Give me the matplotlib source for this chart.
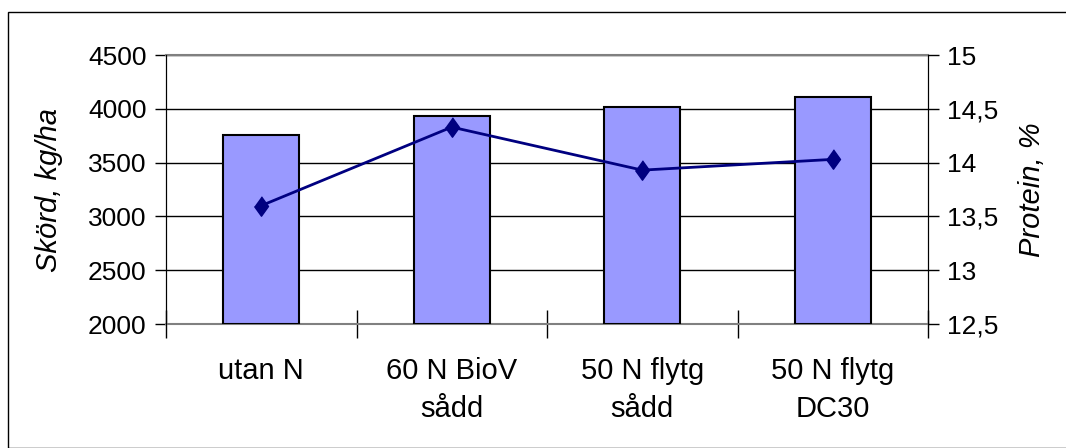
import numpy as np
import matplotlib.pyplot as plt
from matplotlib.patches import Rectangle

plt.rcParams['font.family'] = ['Liberation Sans', 'DejaVu Sans']

categories = ["utan N", "60 N BioV\nsådd", "50 N flytg\nsådd", "50 N flytg\nDC30"]
skord = [3760, 3930, 4020, 4110]
protein = [13.6, 14.33, 13.93, 14.03]

fig = plt.figure(figsize=(10.66, 4.48), dpi=100)
ax = fig.add_axes([166/1066, 1-324/448, (928-166)/1066, (324-55)/448])

x = np.arange(len(categories))
ax.bar(x, [v - 2000 for v in skord], bottom=2000, width=0.4,
       color='#9999ff', edgecolor='black', linewidth=1.5, zorder=3)
ax.set_xlim(-0.5, len(categories) - 0.5)
ax.set_ylim(2000, 4500)
ax.set_yticks(np.arange(2000, 4501, 500))
ax.yaxis.grid(True, color='black', lw=1, zorder=0)
ax.set_axisbelow(True)

ax.set_xticks(np.arange(-0.5, len(categories), 1))
ax.set_xticklabels([])
ax.set_xticks(x, minor=True)
ax.set_xticklabels(categories, minor=True, fontsize=21, linespacing=1.45)
ax.tick_params(axis='x', which='major', direction='inout', length=20, width=1)
ax.tick_params(axis='x', which='minor', length=0, pad=24)
ax.tick_params(axis='y', direction='out', length=8, width=1, labelsize=19, pad=6)

ax.spines['top'].set_color('#808080')
ax.spines['top'].set_linewidth(1.5)
ax.spines['bottom'].set_color('#808080')
ax.spines['bottom'].set_linewidth(1.5)
ax.set_ylabel("Skörd, kg/ha", fontsize=21, style='italic', labelpad=18)

diamond = [(0, 1), (0.72, 0), (0, -1), (-0.72, 0)]
ax2 = ax.twinx()
ax2.plot(x, protein, color='#000080', lw=2, marker=diamond, ms=14, zorder=5)
ax2.set_ylim(12.5, 15)
ax2.set_yticks(np.arange(12.5, 15.01, 0.5))
ax2.set_yticklabels([f"{v:g}".replace('.', ',') for v in np.arange(12.5, 15.01, 0.5)])
ax2.tick_params(axis='y', direction='out', length=8, width=1, labelsize=19, pad=6)
ax2.set_ylabel("Protein, %", fontsize=21, style='italic', labelpad=14)
for s in ['top', 'bottom']:
    ax2.spines[s].set_visible(False)

fig.patches.append(Rectangle((8/1066, 0), 1.2, 1-12/448, transform=fig.transFigure,
                             fill=False, edgecolor='black', lw=1))

fig.savefig('out.png', dpi=100)
